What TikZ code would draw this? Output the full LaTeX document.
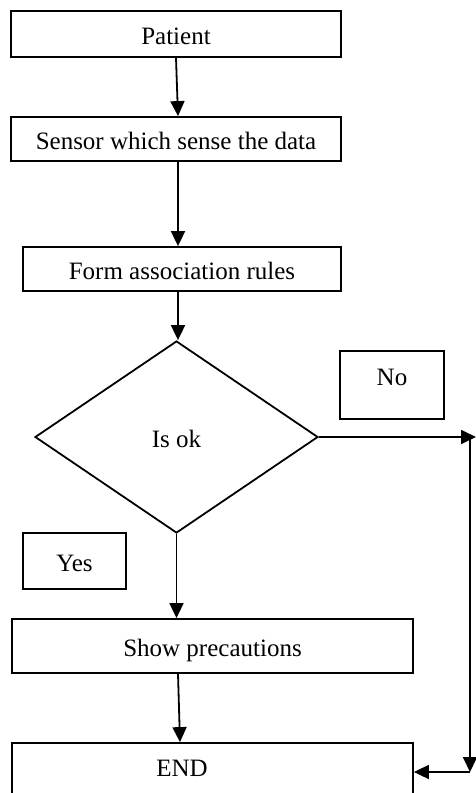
\documentclass[tikz,border=0pt]{standalone}
\usepackage{fontspec}
\setmainfont{Liberation Serif}
\usetikzlibrary{shapes.geometric,arrows.meta}
\begin{document}
\begin{tikzpicture}[x=1pt,y=-1pt,
  every node/.style={font=\fontsize{25}{30}\selectfont},
  box/.style={draw, line width=1.8pt, rectangle, inner sep=0pt, text height=20pt, text depth=0pt},
  arr/.style={-{Triangle[length=15pt,width=14pt]}, line width=1.8pt},
  ln/.style={line width=1.8pt}]
\clip (0,0) rectangle (476,793);
\fill[white] (0,0) rectangle (476,793);
% boxes
\node[box, minimum width=330pt, minimum height=46pt] (patient) at (176,34) {Patient};
\node[box, minimum width=330pt, minimum height=44pt] (sensor) at (176,139) {Sensor which sense the data};
\node[box, minimum width=318pt, minimum height=44pt] (form) at (182,269) {Form association rules};
\node[draw, diamond, line width=1.8pt, inner sep=0pt, minimum width=283pt, minimum height=192pt,
      text height=20pt, text depth=0pt] (dia) at (176.5,437) {Is ok};
\node[box, minimum width=104pt, minimum height=68pt, text height=17pt, text depth=17pt] (no) at (392,385) {No};
\node[box, minimum width=103pt, minimum height=56pt] (yes) at (74.5,561) {Yes};
\node[box, minimum width=401pt, minimum height=54pt] (show) at (212.5,646) {Show precautions};
\node[box, minimum width=401pt, minimum height=80pt] (endbox) at (212.5,783) {};
\node[text height=20pt, text depth=0pt, inner sep=0pt] (endlbl) at (182,766) {END};
% connectors
\draw[arr] (patient.south) -- ([xshift=2pt]sensor.north);
\draw[arr] ([xshift=2pt]sensor.south) -- ([xshift=-4pt]form.north);
\draw[arr] ([xshift=-4pt]form.south) -- ([xshift=1.5pt]dia.north);
\draw[arr] (dia.south) -- (dia.south |- show.north);
\draw[arr] ([xshift=-34.5pt]show.south) -- ([xshift=-32.5pt]endbox.north);
\coordinate (redge) at (476,437);
\coordinate (r1) at (470,437);
\coordinate (r2) at (470,772);
\draw[arr] (dia.east) -- (redge);
\draw[arr] (r1) -- (r2);
\draw[arr] (r2) -- (endbox.east |- r2);
\end{tikzpicture}
\end{document}
